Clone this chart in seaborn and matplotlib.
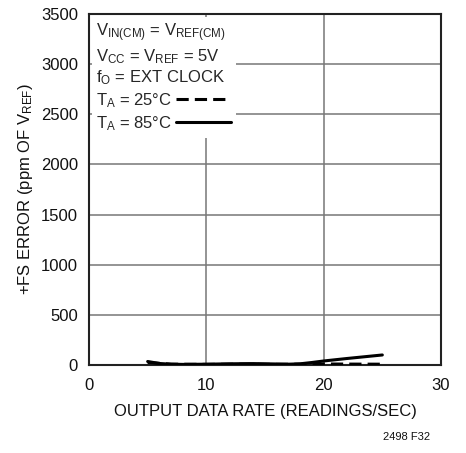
import numpy as np
import pandas as pd
import matplotlib
matplotlib.use("Agg")
import matplotlib.pyplot as plt
import seaborn as sns
from matplotlib.lines import Line2D

sns.set_theme(style="white")
plt.rcParams['font.family'] = ['Liberation Sans Narrow', 'Liberation Sans', 'DejaVu Sans']
plt.rcParams['mathtext.fontset'] = 'custom'
plt.rcParams['mathtext.rm'] = 'Liberation Sans'
plt.rcParams['mathtext.it'] = 'Liberation Sans'
plt.rcParams['mathtext.default'] = 'regular'

# output data rate (readings/sec) vs +FS error (ppm of VREF)
rate_85 = [5, 6, 7, 8, 10, 12, 14, 16, 17, 18, 19, 20, 22, 25]
err_85 = [35, 15, 8, 6, 8, 12, 14, 10, 8, 12, 25, 40, 65, 100]
rate_25 = [5, 7, 10, 13, 16, 18, 20, 22, 25]
err_25 = [25, 8, 6, 8, 6, 8, 10, 9, 8]

x_ticks = [0, 10, 20, 30]
y_ticks = [0, 500, 1000, 1500, 2000, 2500, 3000, 3500]

df85 = pd.DataFrame({"rate": rate_85, "err": err_85})
df25 = pd.DataFrame({"rate": rate_25, "err": err_25})

fig = plt.figure(figsize=(4.66, 4.53), dpi=100)
ax = fig.add_axes([89 / 466, 1 - 365 / 453, 352 / 466, 351 / 453])

sns.lineplot(data=df25, x="rate", y="err", ax=ax, color="black", lw=2.2,
             linestyle=(0, (4, 2)), zorder=3)
sns.lineplot(data=df85, x="rate", y="err", ax=ax, color="black", lw=2.2, zorder=4)

ax.set_xlim(0, 30)
ax.set_ylim(0, 3500)
ax.set_xticks(x_ticks)
ax.set_yticks(y_ticks)
ax.grid(True, color="#777777", lw=1.1)
ax.tick_params(axis="both", labelsize=12, length=0, colors="#111111")
ax.tick_params(axis="x", pad=9)
ax.tick_params(axis="y", pad=8)
for s in ax.spines.values():
    s.set_color("#222222")
    s.set_linewidth(1.5)

ax.set_xlabel("OUTPUT DATA RATE (READINGS/SEC)", fontsize=12, color="#111111", labelpad=8)
ax.set_ylabel("+FS ERROR (ppm OF V$_{REF}$)", fontsize=12, color="#111111", labelpad=4)

handles = [Line2D([], [], color="black", lw=2.2, linestyle=(0, (4, 2))),
           Line2D([], [], color="black", lw=2.2)]
leg = ax.legend(handles, ["T$_A$ = 25°C", "T$_A$ = 85°C"],
                title="V$_{IN(CM)}$ = V$_{REF(CM)}$\nV$_{CC}$ = V$_{REF}$ = 5V\nf$_O$ = EXT CLOCK",
                loc="upper left", bbox_to_anchor=(0.0, 1.0), markerfirst=False,
                frameon=True, fancybox=False, framealpha=1, edgecolor="white",
                fontsize=12, title_fontsize=12, handlelength=3.3, handletextpad=0.2,
                labelspacing=0.25, borderpad=0.3, borderaxespad=0.15)
leg._legend_box.align = "left"
leg.get_frame().set_linewidth(0)

fig.text(0.822, 0.028, "2498 F32", fontsize=8, color="#111111")

fig.savefig("out.png", dpi=100)
